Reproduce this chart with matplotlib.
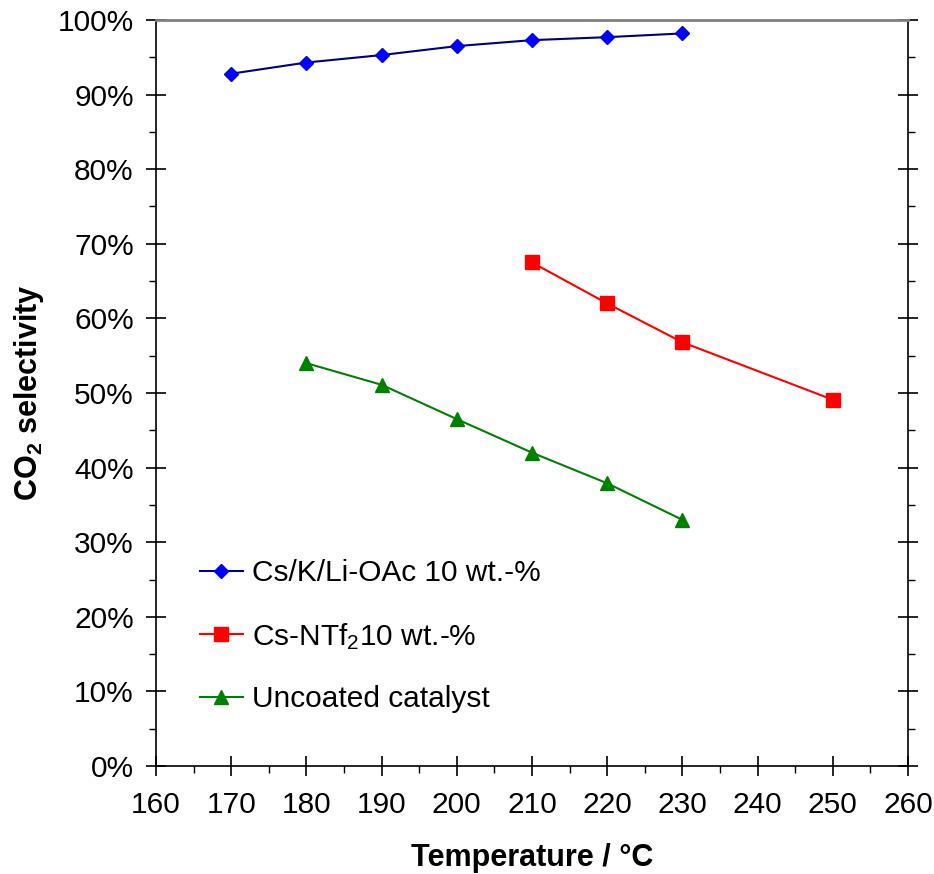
import matplotlib
matplotlib.use("Agg")
import matplotlib.pyplot as plt
from matplotlib.ticker import MultipleLocator, PercentFormatter

plt.rcParams['font.family'] = ['Liberation Sans', 'DejaVu Sans']
plt.rcParams['mathtext.fontset'] = 'custom'
plt.rcParams['mathtext.rm'] = 'Liberation Sans'
plt.rcParams['mathtext.it'] = 'Liberation Sans:italic'
plt.rcParams['mathtext.bf'] = 'Liberation Sans:bold'

# Data
temp_oac = [170, 180, 190, 200, 210, 220, 230]
sel_oac = [92.8, 94.3, 95.3, 96.5, 97.3, 97.7, 98.2]
temp_ntf2 = [210, 220, 230, 250]
sel_ntf2 = [67.5, 62.0, 56.8, 49.1]
temp_unc = [180, 190, 200, 210, 220, 230]
sel_unc = [54.0, 51.1, 46.5, 42.0, 37.9, 33.0]

labels = ['Cs/K/Li-OAc 10 wt.-%', r'Cs-NTf$_2$10 wt.-%', 'Uncoated catalyst']
x_ticks = [160, 170, 180, 190, 200, 210, 220, 230, 240, 250, 260]

fig = plt.figure(figsize=(9.34, 8.74), dpi=100)
ax = fig.add_axes([156/934, 1-766/874, (908-156)/934, (766-20)/874])

ax.plot(temp_oac, sel_oac, color='#000080', lw=1.5, marker='D', ms=7.5,
        mfc='#0000FF', mec='#0000FF', label=labels[0])
ax.plot(temp_ntf2, sel_ntf2, color='#FF0000', lw=1.5, marker='s', ms=9.5,
        mfc='#FF0000', mec='#FF0000', label=labels[1])
ax.plot(temp_unc, sel_unc, color='#008000', lw=1.5, marker='^', ms=10.5,
        mfc='#008000', mec='#008000', label=labels[2])

ax.set_xlim(160, 260)
ax.set_ylim(0, 100)
ax.set_xticks(x_ticks)
ax.xaxis.set_minor_locator(MultipleLocator(5))
ax.yaxis.set_major_locator(MultipleLocator(10))
ax.yaxis.set_minor_locator(MultipleLocator(5))
ax.yaxis.set_major_formatter(PercentFormatter(decimals=0))

for s in ['left', 'bottom', 'right']:
    ax.spines[s].set_color('black')
    ax.spines[s].set_linewidth(1.2)
ax.spines['top'].set_color('#808080')
ax.spines['top'].set_linewidth(2)

ax.tick_params(which='major', direction='inout', length=14, width=1.2,
               labelsize=21.5, color='black', top=False, right=True, pad=3)
ax.tick_params(which='minor', direction='out', length=5, width=1.0,
               color='black', top=False, right=True)
ax.tick_params(axis='x', which='major', pad=11)
ax.tick_params(axis='y', which='major', pad=9)

ax.set_xlabel('Temperature / °C', fontsize=22, fontweight='bold', labelpad=17)
ax.set_ylabel(r'CO$_\mathbf{2}$ selectivity', fontsize=22, fontweight='bold', labelpad=8)

leg = ax.legend(loc='lower left', bbox_to_anchor=(0.042, 0.055), frameon=False,
                fontsize=21.5, labelspacing=1.12, handlelength=1.45, handletextpad=0.3,
                borderaxespad=0)

fig.savefig('out.png', dpi=100)
